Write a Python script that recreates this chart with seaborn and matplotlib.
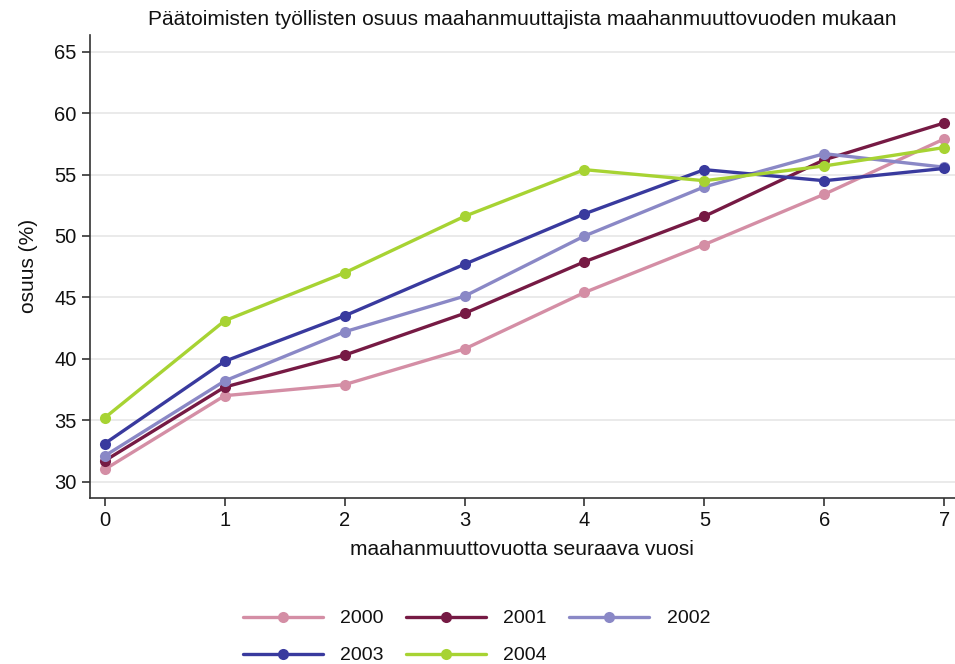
import numpy as np
import pandas as pd
import matplotlib.pyplot as plt
import seaborn as sns

# Values
vuosi = [0, 1, 2, 3, 4, 5, 6, 7]
y2000 = [31.0, 37.0, 37.9, 40.8, 45.4, 49.3, 53.4, 57.9]
y2001 = [31.7, 37.7, 40.3, 43.7, 47.9, 51.6, 56.2, 59.2]
y2002 = [32.1, 38.2, 42.2, 45.1, 50.0, 54.0, 56.7, 55.6]
y2003 = [33.1, 39.8, 43.5, 47.7, 51.8, 55.4, 54.5, 55.5]
y2004 = [35.2, 43.1, 47.0, 51.6, 55.4, 54.5, 55.7, 57.2]
kohortit = ["2000", "2001", "2002", "2003", "2004"]
varit = ["#d48ea5", "#761a44", "#8a88c6", "#393a9e", "#a7d333"]

df = pd.DataFrame({
    "vuosi": vuosi * 5,
    "osuus": y2000 + y2001 + y2002 + y2003 + y2004,
    "kohortti": np.repeat(kohortit, len(vuosi)),
})

sns.set_style("white")
plt.rcParams["font.family"] = ["Liberation Sans", "DejaVu Sans"]
plt.rcParams["text.color"] = "#111111"
plt.rcParams["axes.labelcolor"] = "#111111"
plt.rcParams["xtick.color"] = "#111111"
plt.rcParams["ytick.color"] = "#111111"

fig = plt.figure(figsize=(9.55, 6.64), dpi=100)
ax = fig.add_axes([0.094, 0.25, 0.906, 0.698])

sns.lineplot(data=df, x="vuosi", y="osuus", hue="kohortti",
             palette=dict(zip(kohortit, varit)), marker="o", markersize=8,
             markeredgewidth=0, linewidth=2.4, ax=ax)

ax.set_xlim(-0.125, 7.09)
ax.set_ylim(28.67, 66.4)
ax.set_yticks(range(30, 66, 5))
ax.set_xticks(range(0, 8))
ax.yaxis.grid(True, color="#e6e6e6", linewidth=1.2)
ax.set_axisbelow(True)
for s in ["top", "right"]:
    ax.spines[s].set_visible(False)
for s in ["left", "bottom"]:
    ax.spines[s].set_color("#333333")
    ax.spines[s].set_linewidth(1.2)
ax.tick_params(axis="both", direction="out", length=6, width=1.2,
               color="#333333", labelsize=14.5, bottom=True, left=True)

ax.set_title("Päätoimisten työllisten osuus maahanmuuttajista maahanmuuttovuoden mukaan",
             fontsize=15, pad=7)
ax.set_xlabel("maahanmuuttovuotta seuraava vuosi", fontsize=15, labelpad=7)
ax.set_ylabel("osuus (%)", fontsize=15, labelpad=12)

# legend filled row by row like the original
h, l = ax.get_legend_handles_labels()
order = [0, 3, 1, 4, 2]
ax.legend([h[i] for i in order], [l[i] for i in order],
          loc="upper center", bbox_to_anchor=(0.499, 0.108),
          bbox_transform=fig.transFigure, ncol=3,
          frameon=False, fontsize=14, handlelength=4.1, columnspacing=1.15,
          handletextpad=0.9, labelspacing=1.0)

plt.savefig("out.png", dpi=100)
